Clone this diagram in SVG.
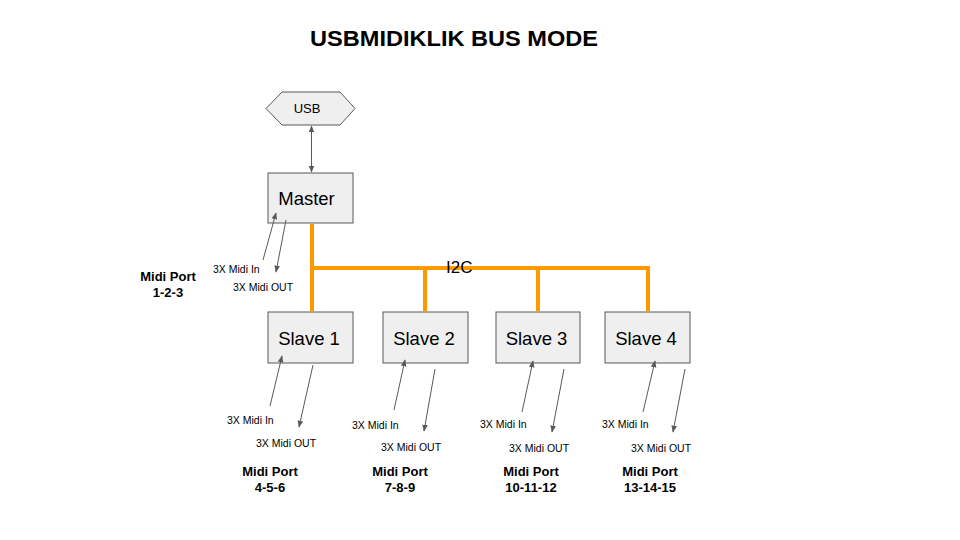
<svg xmlns="http://www.w3.org/2000/svg" width="960" height="540" viewBox="0 0 960 540">
<style>
.box{fill:#efefef;stroke:#595959;stroke-width:1}
.bus{stroke:#ff9900;stroke-width:4;fill:none}
.wire{stroke:#595959;stroke-width:1;fill:none}
.name{font-family:"Liberation Sans",Arial,sans-serif;font-size:18.5px;fill:#000;text-anchor:middle}
.small{font-family:"Liberation Sans",Arial,sans-serif;font-size:10.5px;fill:#000}
.port{font-family:"Liberation Sans",Arial,sans-serif;font-size:13px;font-weight:bold;fill:#000;text-anchor:middle}
</style>
<defs>
<marker id="ah" viewBox="0 0 10 10" refX="9" refY="5" markerWidth="7" markerHeight="7" orient="auto-start-reverse" markerUnits="userSpaceOnUse">
<path d="M0,1 L10,5 L0,9 Z" fill="#595959"/>
</marker>
</defs>
<rect width="960" height="540" fill="#fff"/>
<text x="310" y="46" font-family="'Liberation Sans',Arial,sans-serif" font-size="22" font-weight="bold" textLength="288" lengthAdjust="spacingAndGlyphs">USBMIDIKLIK BUS MODE</text>

<g id="usb">
<polygon class="box" points="266,108.5 282,92 340,92 355,108.5 340,125 282,125"/>
<text x="307" y="113" font-family="'Liberation Sans',Arial,sans-serif" font-size="13" text-anchor="middle">USB</text>
</g>

<g id="master">
<rect class="box" x="268" y="173" width="85" height="50"/>
<text class="name" x="306.5" y="205">Master</text>
<text class="small" x="213" y="273">3X Midi In</text>
<text class="small" x="233" y="291">3X Midi OUT</text>
<text class="port" x="168" y="281">Midi Port</text>
<text class="port" x="168" y="297">1-2-3</text>
</g>

<g id="slave1">
<rect class="box" x="268" y="312" width="85" height="51"/>
<text class="name" x="309" y="345">Slave 1</text>
<text class="small" x="227" y="424">3X Midi In</text>
<text class="small" x="256" y="447">3X Midi OUT</text>
<text class="port" x="270" y="476">Midi Port</text>
<text class="port" x="270" y="492">4-5-6</text>
</g>

<g id="slave2">
<rect class="box" x="383" y="312" width="85" height="51"/>
<text class="name" x="424" y="345">Slave 2</text>
<text class="small" x="352" y="429">3X Midi In</text>
<text class="small" x="381" y="451">3X Midi OUT</text>
<text class="port" x="400" y="476">Midi Port</text>
<text class="port" x="400" y="492">7-8-9</text>
</g>

<g id="slave3">
<rect class="box" x="496" y="312" width="84" height="51"/>
<text class="name" x="536.5" y="345">Slave 3</text>
<text class="small" x="480" y="428">3X Midi In</text>
<text class="small" x="509" y="452">3X Midi OUT</text>
<text class="port" x="531" y="476">Midi Port</text>
<text class="port" x="531" y="492">10-11-12</text>
</g>

<g id="slave4">
<rect class="box" x="605" y="312" width="85" height="51"/>
<text class="name" x="646" y="345">Slave 4</text>
<text class="small" x="602" y="428">3X Midi In</text>
<text class="small" x="631" y="452">3X Midi OUT</text>
<text class="port" x="650" y="476">Midi Port</text>
<text class="port" x="650" y="492">13-14-15</text>
</g>

<g id="connectors">
<line class="wire" x1="311.5" y1="126" x2="311.5" y2="172" marker-start="url(#ah)" marker-end="url(#ah)"/>
<path class="bus" d="M312,224 V311.5 M312,268 H650 M425,268 V311.5 M538,268 V311.5 M648,268 V311.5"/>
<line class="wire" x1="263" y1="260" x2="276" y2="213" marker-end="url(#ah)"/>
<line class="wire" x1="286" y1="220" x2="276" y2="272" marker-end="url(#ah)"/>
<line class="wire" x1="270" y1="406" x2="282" y2="356" marker-end="url(#ah)"/>
<line class="wire" x1="313" y1="365" x2="299" y2="427" marker-end="url(#ah)"/>
<line class="wire" x1="394" y1="410" x2="405" y2="360" marker-end="url(#ah)"/>
<line class="wire" x1="435" y1="369" x2="424" y2="431" marker-end="url(#ah)"/>
<line class="wire" x1="522" y1="412" x2="533" y2="361" marker-end="url(#ah)"/>
<line class="wire" x1="564" y1="369" x2="552" y2="432" marker-end="url(#ah)"/>
<line class="wire" x1="643" y1="412" x2="655" y2="361" marker-end="url(#ah)"/>
<line class="wire" x1="685" y1="369" x2="673" y2="432" marker-end="url(#ah)"/>
<text x="446" y="273" font-family="'Liberation Sans',Arial,sans-serif" font-size="17">I2C</text>
</g>
</svg>
